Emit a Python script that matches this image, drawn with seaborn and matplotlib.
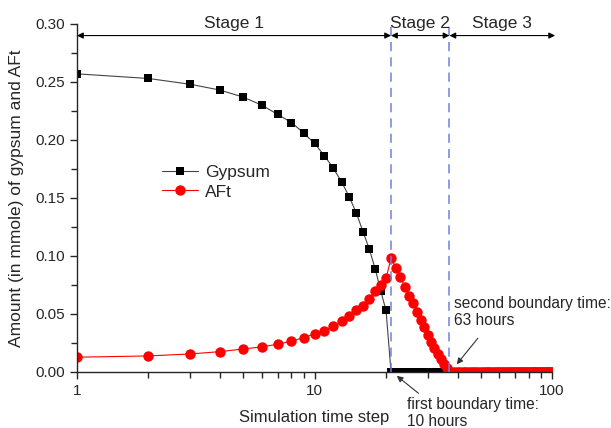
import matplotlib
matplotlib.use("Agg")
import matplotlib.pyplot as plt
import seaborn as sns

# time steps (log x axis)
steps = list(range(1, 101))

# gypsum; all gone after step 20
gypsum_first = [0.257, 0.253, 0.248, 0.243, 0.237, 0.230, 0.222, 0.215, 0.206, 0.197,
                0.1865, 0.1756, 0.164, 0.151, 0.137, 0.121, 0.106, 0.089, 0.070, 0.053]
gypsum = gypsum_first + [0.0] * (100 - len(gypsum_first))

# AFt, rises to a peak at step 21 then back to zero by step 37
aft_first = [0.0127, 0.0138, 0.0155, 0.0175, 0.0198, 0.0216, 0.0239, 0.0265, 0.0296, 0.0328,
             0.0356, 0.0397, 0.0437, 0.0486, 0.0534, 0.0572, 0.0629, 0.0695, 0.075, 0.0807,
             0.098, 0.090, 0.0822, 0.0736, 0.0658, 0.0595, 0.0517, 0.0448, 0.0385, 0.0319,
             0.0261, 0.0204, 0.0155, 0.0109, 0.0069, 0.0034]
aft = aft_first + [0.0] * (100 - len(aft_first))

boundaries = [21, 37]
stage_labels = ["Stage 1", "Stage 2", "Stage 3"]
stage_edges = [1, 21, 37, 103]

sns.set_style("ticks")
plt.rcParams["font.family"] = ["Liberation Sans", "DejaVu Sans"]

fig = plt.figure(figsize=(6.11, 4.28), dpi=100)
ax = fig.add_axes([0.126, 0.131, 0.7775, 0.813])

sns.lineplot(x=steps, y=gypsum, ax=ax, color="#444444", linewidth=0.8,
             marker="s", markersize=6, markerfacecolor="black",
             markeredgecolor="black", markeredgewidth=0, label="Gypsum")
sns.lineplot(x=steps, y=aft, ax=ax, color="red", linewidth=0.8,
             marker="o", markersize=7.5, markerfacecolor="red",
             markeredgecolor="red", markeredgewidth=0, label="AFt")

ax.set_xscale("log")
ax.set_xlim(1, 100)
ax.set_ylim(0, 0.30)
ax.set_yticks([0, 0.05, 0.10, 0.15, 0.20, 0.25, 0.30])
ax.set_yticklabels(["0.00", "0.05", "0.10", "0.15", "0.20", "0.25", "0.30"])
ax.set_yticks([0.025, 0.075, 0.125, 0.175, 0.225, 0.275], minor=True)
ax.set_xticks([1, 10, 100])
ax.set_xticklabels(["1", "10", "100"])
ax.tick_params(axis="both", which="major", labelsize=11, length=5, width=1)
ax.tick_params(axis="both", which="minor", length=4, width=1)
sns.despine(ax=ax)
for s in ["left", "bottom"]:
    ax.spines[s].set_linewidth(1)

ax.set_xlabel("Simulation time step", fontsize=12, labelpad=9)
ax.set_ylabel("Amount (in mmole) of gypsum and AFt", fontsize=12.5, labelpad=8)

# stage boundaries
for b in boundaries:
    ax.axvline(b, color="#7080e0", linestyle=(0, (6, 4)), linewidth=1.1, zorder=3)

# stage arrows along the top
for i, lab in enumerate(stage_labels):
    x0, x1 = stage_edges[i], stage_edges[i + 1]
    ax.annotate("", xy=(x1, 0.29), xytext=(x0, 0.29), annotation_clip=False,
                arrowprops=dict(arrowstyle="<|-|>", color="black", lw=0.8,
                                mutation_scale=9, shrinkA=0, shrinkB=0))
    ax.text((x0 * x1) ** 0.5, 0.3, lab, ha="center", va="center", fontsize=12.5,
            clip_on=False)

# boundary notes
ax.text(38.7, 0.0517, "second boundary time:\n63 hours", fontsize=11.2, ha="left",
        va="center", linespacing=1.2)
ax.annotate("", xy=(39.7, 0.0066), xytext=(48.7, 0.029),
            arrowprops=dict(arrowstyle="-|>", color="#333333", lw=0.8,
                            mutation_scale=9, shrinkA=0, shrinkB=0))
ax.text(24.6, -0.0352, "first boundary time:\n10 hours", fontsize=11.2, ha="left",
        va="center", linespacing=1.2, clip_on=False)
ax.annotate("", xy=(22.2, -0.0034), xytext=(27.4, -0.0184), annotation_clip=False,
            arrowprops=dict(arrowstyle="-|>", color="#333333", lw=0.8,
                            mutation_scale=9, shrinkA=0, shrinkB=0))

ax.legend(loc="upper left", bbox_to_anchor=(0.164, 0.615), frameon=False,
          fontsize=12.5, handlelength=2.1, handletextpad=0.4, labelspacing=0.25,
          borderaxespad=0)

fig.savefig("out.png", dpi=100)
